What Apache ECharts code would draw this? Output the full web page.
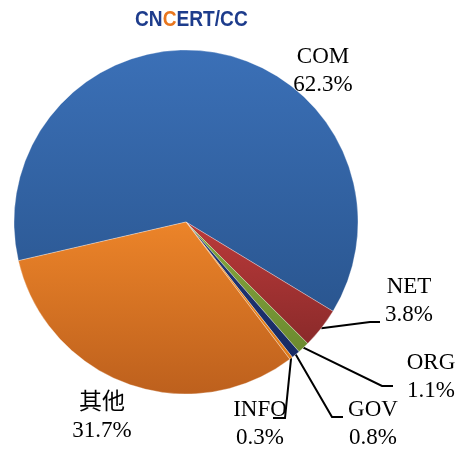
<!DOCTYPE html>
<html>
<head>
<meta charset="utf-8">
<script src="https://cdn.jsdelivr.net/npm/echarts@6/dist/echarts.min.js"></script>
<style>
    html, body { margin: 0; padding: 0; background: #fff; }
    #main { width: 465px; height: 450px; }
</style>
</head>
<body>
<div id="main"></div>
<script>
// 域名类别及占比(%)
var categories = ['COM', 'NET', 'ORG', 'GOV', 'INFO', '其他'];
var shares = [62.3, 3.8, 1.1, 0.8, 0.3, 31.7];

// 每块的渐变色 [上, 下]
var sliceColors = [
    ['#3b70b7', '#2a5690'],
    ['#bb3a3a', '#8a2a2a'],
    ['#88a840', '#6c8a2f'],
    ['#22397a', '#172a63'],
    ['#f39222', '#e07a18'],
    ['#ec8429', '#bd601d']
];
// 标签中心位置
var labelPos = [[323, 71], [409, 301], [431, 377], [373, 424], [260, 424], [102, 417]];
// 引导线拐点 [拐点x, 终点x, y]
var labelHooks = [null, [370, 380, 322], [382, 393, 386], [332, 343, 417], [285, 273, 418], null];

(function () {
    var myChart = echarts.init(document.getElementById('main'));

    var data = categories.map(function (name, i) {
        return {
            name: name,
            value: shares[i],
            itemStyle: {
                color: new echarts.graphic.LinearGradient(0, 0, 0, 1, [
                    { offset: 0, color: sliceColors[i][0] },
                    { offset: 1, color: sliceColors[i][1] }
                ])
            },
            labelLine: { show: labelHooks[i] !== null }
        };
    });

    var logoFont = {
        fontFamily: 'Liberation Sans, Arial, sans-serif',
        fontWeight: 'bold',
        fontSize: 22
    };

    var option = {
        animation: false,
        graphic: [
            {
                type: 'text',
                x: 135,
                y: 9,
                scaleX: 0.87,
                style: {
                    text: '{a|CN}{b|C}{a|ERT/CC}',
                    rich: {
                        a: Object.assign({ fill: '#1d3c8c' }, logoFont),
                        b: Object.assign({ fill: '#e8761e' }, logoFont)
                    }
                }
            }
        ],
        series: [
            {
                type: 'pie',
                center: [186, 222],
                radius: 172,
                startAngle: 193,
                clockwise: true,
                avoidLabelOverlap: false,
                itemStyle: {
                    borderColor: 'rgba(255,255,255,0.6)',
                    borderWidth: 0.5
                },
                label: {
                    show: true,
                    position: 'outside',
                    formatter: '{b}\n{c}%',
                    fontFamily: 'Liberation Serif, Times New Roman, Noto Sans CJK SC, serif',
                    fontSize: 23,
                    lineHeight: 28,
                    color: '#000'
                },
                labelLine: {
                    show: true,
                    length: 15,
                    length2: 10,
                    lineStyle: { color: '#000', width: 2 }
                },
                labelLayout: function (p) {
                    var pos = labelPos[p.dataIndex];
                    var out = { x: pos[0], y: pos[1], align: 'center', verticalAlign: 'middle' };
                    var hook = labelHooks[p.dataIndex];
                    if (hook && p.labelLinePoints) {
                        var edge = p.labelLinePoints[0];
                        out.labelLinePoints = [edge, [hook[0], hook[2]], [hook[1], hook[2]]];
                    }
                    return out;
                },
                data: data
            }
        ]
    };
    myChart.setOption(option);
    window.addEventListener('resize', function () {
        myChart.resize();
    });
})();
</script>
</body>
</html>
